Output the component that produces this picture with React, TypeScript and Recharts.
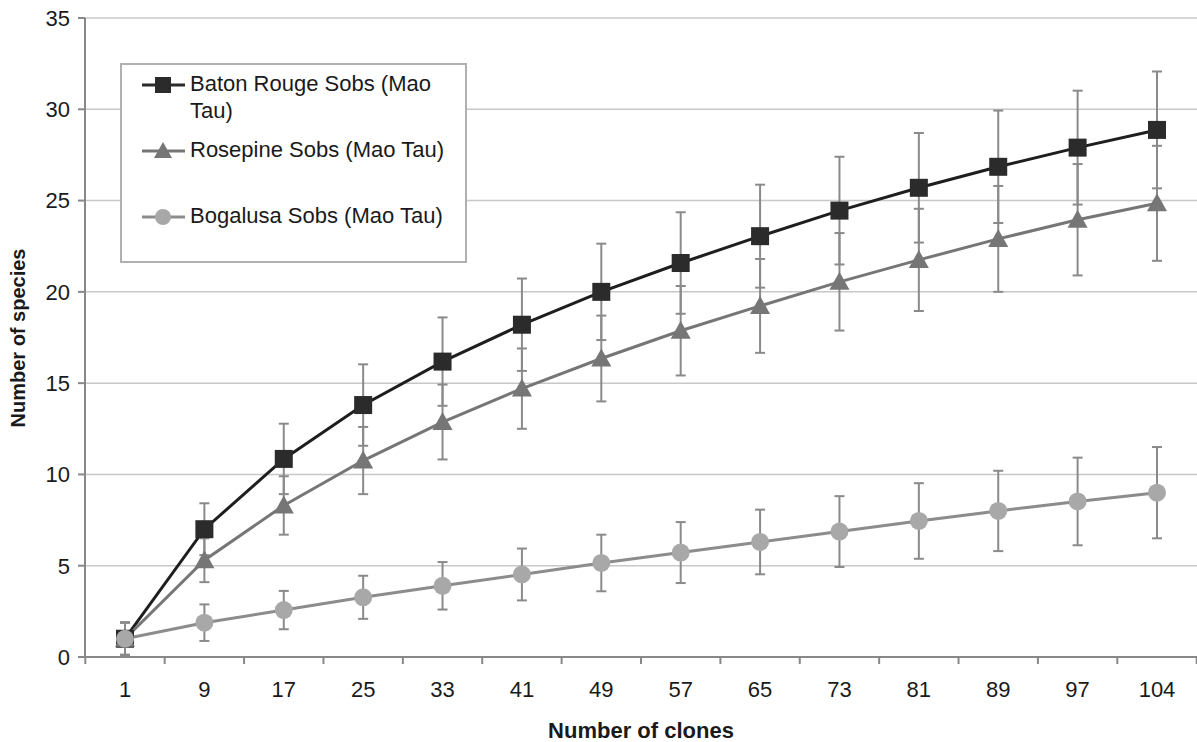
import React from "react"
import { LineChart, Line, XAxis, YAxis, CartesianGrid, ErrorBar } from "recharts"

const clones = ["1", "9", "17", "25", "33", "41", "49", "57", "65", "73", "81", "89", "97", "104"]

const batonRouge = [1, 7.0, 10.85, 13.8, 16.18, 18.2, 20.0, 21.58, 23.05, 24.45, 25.7, 26.85, 27.9, 28.87]
const batonRougeErr = [0.9, 1.42, 1.93, 2.23, 2.42, 2.53, 2.64, 2.78, 2.82, 2.95, 3.0, 3.08, 3.12, 3.2]

const rosepine = [1, 5.3, 8.3, 10.76, 12.87, 14.7, 16.35, 17.87, 19.23, 20.55, 21.75, 22.9, 23.95, 24.85]
const rosepineErr = [0.9, 1.2, 1.6, 1.84, 2.05, 2.2, 2.35, 2.45, 2.57, 2.67, 2.8, 2.9, 3.05, 3.15]

const bogalusa = [1, 1.88, 2.57, 3.27, 3.9, 4.52, 5.15, 5.72, 6.3, 6.87, 7.45, 8.0, 8.52, 9.0]
const bogalusaErr = [0.87, 1.0, 1.05, 1.18, 1.3, 1.42, 1.55, 1.67, 1.77, 1.94, 2.07, 2.2, 2.4, 2.5]

const yTicks = [0, 5, 10, 15, 20, 25, 30, 35]

const data = clones.map((c, i) => ({
  clones: c,
  br: batonRouge[i],
  brErr: batonRougeErr[i],
  rp: rosepine[i],
  rpErr: rosepineErr[i],
  bg: bogalusa[i],
  bgErr: bogalusaErr[i],
}))

const W = 1197
const H = 742
const LEFT = 85
const PAD = 40
const STEP = (W - LEFT - 2 * PAD) / (clones.length - 1)
const FONT = "'Liberation Sans', Arial, sans-serif"

const DARK = "#2b2b2b"
const MID = "#767676"
const LIGHT = "#a8a8a8"
const ERR = "#8a8a8a"

const square = (color: string) => (p: any) => (
  <rect key={p.key} x={p.cx - 9} y={p.cy - 9} width={18} height={18} fill={color} />
)
const triangle = (color: string) => (p: any) => (
  <polygon key={p.key} points={`${p.cx},${p.cy - 10} ${p.cx - 10},${p.cy + 8} ${p.cx + 10},${p.cy + 8}`} fill={color} />
)
const circle = (color: string) => (p: any) => <circle key={p.key} cx={p.cx} cy={p.cy} r={9} fill={color} />

const XTick = (p: any) => {
  const last = p.index === clones.length - 1
  return (
    <g>
      <line x1={p.x - STEP / 2} x2={p.x - STEP / 2} y1={p.y - 7} y2={p.y} stroke="#888" strokeWidth={2} />
      {last && <line x1={p.x + STEP / 2} x2={p.x + STEP / 2} y1={p.y - 7} y2={p.y} stroke="#888" strokeWidth={2} />}
      <text x={p.x} y={p.y + 33} textAnchor="middle" fontSize={22} fill="#1a1a1a" fontFamily={FONT}>
        {p.payload.value}
      </text>
    </g>
  )
}

const legendItems = [
  { lines: ["Baton Rouge Sobs (Mao", "Tau)"], color: DARK, line: DARK, shape: "square" },
  { lines: ["Rosepine Sobs (Mao Tau)"], color: MID, line: MID, shape: "triangle" },
  { lines: ["Bogalusa Sobs (Mao Tau)"], color: LIGHT, line: "#8c8c8c", shape: "circle" },
]

const LegendBox = () => (
  <div
    style={{
      position: "absolute",
      left: 120,
      top: 63,
      width: 343,
      height: 196,
      border: "2px solid #b0b0b0",
      background: "#fff",
      fontFamily: FONT,
      fontSize: 22,
      color: "#1a1a1a",
    }}
  >
    {legendItems.map((it) => (
      <div key={it.shape} style={{ position: "relative", height: 66 }}>
        <svg width={50} height={30} style={{ position: "absolute", left: 18, top: 5 }}>
          <line x1={2} x2={45} y1={15} y2={15} stroke={it.line} strokeWidth={3} />
          {it.shape === "square" && <rect x={15} y={7} width={16} height={16} fill={it.color} />}
          {it.shape === "triangle" && <polygon points="23,6 14,22 32,22" fill={it.color} />}
          {it.shape === "circle" && <circle cx={23} cy={15} r={8} fill={it.color} />}
        </svg>
        <div style={{ position: "absolute", left: 68, top: 5, lineHeight: "27px" }}>
          {it.lines.map((l) => (
            <div key={l}>{l}</div>
          ))}
        </div>
      </div>
    ))}
  </div>
)

export default function App() {
  return (
    <div style={{ position: "absolute", left: 0, top: 0, width: W, height: H, background: "#fff" }}>
      <LineChart width={W} height={H} data={data} margin={{ top: 18, right: 0, bottom: 0, left: 0 }}>
        <CartesianGrid horizontal vertical={false} stroke="#c8c8c8" strokeWidth={1.5} />
        <XAxis
          dataKey="clones"
          padding={{ left: PAD, right: PAD }}
          height={85}
          tickLine={false}
          tickSize={7}
          tickMargin={0}
          axisLine={{ stroke: "#888", strokeWidth: 2 }}
          tick={<XTick />}
          interval={0}
          label={{
            content: () => (
              <text x={(LEFT + W) / 2} y={738} textAnchor="middle" fontSize={22} fontWeight="bold" fill="#1a1a1a" fontFamily={FONT}>
                Number of clones
              </text>
            ),
          }}
        />
        <YAxis
          width={LEFT}
          domain={[0, 35]}
          ticks={yTicks}
          interval={0}
          tickSize={7}
          tickMargin={8}
          tickLine={{ stroke: "#888", strokeWidth: 2 }}
          axisLine={{ stroke: "#888", strokeWidth: 2 }}
          tick={{ fontSize: 22, fill: "#1a1a1a", fontFamily: FONT }}
          label={{
            content: () => (
              <text
                x={18}
                y={338}
                transform="rotate(-90, 18, 338)"
                textAnchor="middle"
                dominantBaseline="central"
                fontSize={20}
                fontWeight="bold"
                fill="#1a1a1a"
                fontFamily={FONT}
              >
                Number of species
              </text>
            ),
          }}
        />
        <Line
          dataKey="br"
          stroke="#1e1e1e"
          strokeWidth={3}
          dot={square(DARK)}
          activeDot={false}
          isAnimationActive={false}
        >
          <ErrorBar dataKey="brErr" direction="y" width={5} stroke={ERR} strokeWidth={2} />
        </Line>
        <Line
          dataKey="rp"
          stroke={MID}
          strokeWidth={3}
          dot={triangle(MID)}
          activeDot={false}
          isAnimationActive={false}
        >
          <ErrorBar dataKey="rpErr" direction="y" width={5} stroke={ERR} strokeWidth={2} />
        </Line>
        <Line
          dataKey="bg"
          stroke="#8c8c8c"
          strokeWidth={3}
          dot={circle(LIGHT)}
          activeDot={false}
          isAnimationActive={false}
        >
          <ErrorBar dataKey="bgErr" direction="y" width={5} stroke={ERR} strokeWidth={2} />
        </Line>
      </LineChart>
      <LegendBox />
    </div>
  )
}
